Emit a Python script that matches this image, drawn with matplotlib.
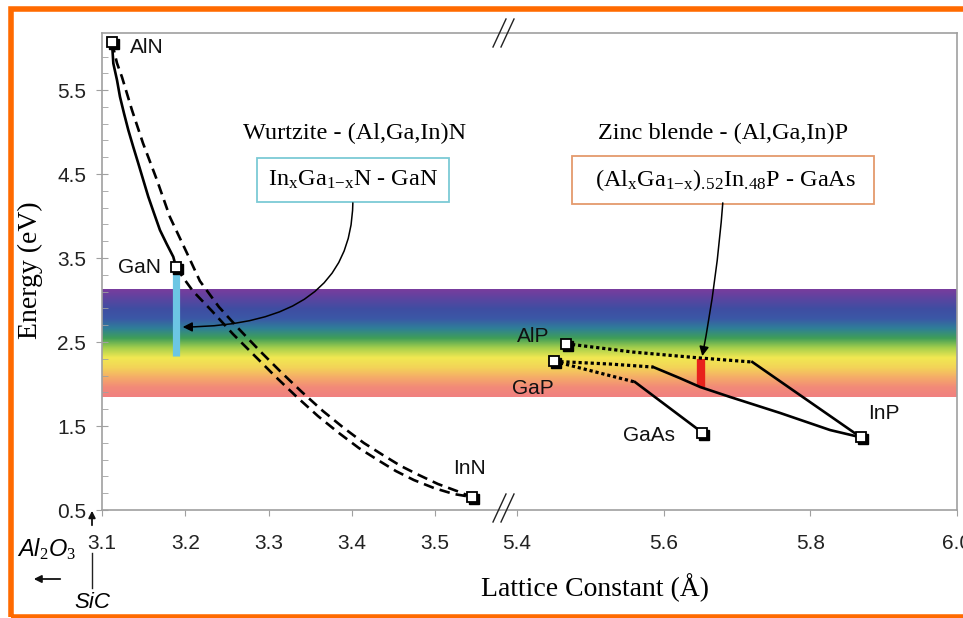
import matplotlib
matplotlib.use("Agg")
import matplotlib.pyplot as plt
import numpy as np
from matplotlib.colors import LinearSegmentedColormap
from matplotlib.lines import Line2D
from matplotlib.patches import Rectangle, FancyArrowPatch
from matplotlib.transforms import offset_copy

plt.rcParams["font.family"] = ["Liberation Sans", "DejaVu Sans"]
plt.rcParams["mathtext.fontset"] = "custom"
plt.rcParams["mathtext.rm"] = "Liberation Serif"
plt.rcParams["mathtext.it"] = "Liberation Sans:italic"

# ---- binaries: lattice constant (A) and band gap (eV) ----
nitride_names = ["AlN", "GaN", "InN"]
nitride_a = [3.112, 3.189, 3.544]
nitride_eg = [6.07, 3.39, 0.655]

phosphide_names = ["AlP", "GaP", "GaAs", "InP"]
phosphide_a = [5.467, 5.451, 5.653, 5.869]
phosphide_eg = [2.48, 2.27, 1.42, 1.365]

# ---- ternary curves ----
aln_gan_a = [3.112, 3.1136, 3.1180, 3.1216, 3.1265, 3.1316, 3.1375, 3.1436, 3.1496,
             3.1556, 3.1626, 3.1696, 3.1776, 3.1856, 3.189]
aln_gan_eg = [6.07, 5.818, 5.62, 5.420, 5.22, 5.024, 4.825, 4.627, 4.428,
              4.230, 4.03, 3.833, 3.67, 3.515, 3.39]

aln_inn_a = [3.112, 3.118, 3.124, 3.136, 3.1492, 3.166, 3.1816, 3.202, 3.2176, 3.2405,
             3.2645, 3.2897, 3.3149, 3.3401, 3.3653, 3.3905, 3.4145, 3.4373, 3.4589,
             3.4805, 3.5034, 3.5262, 3.544]
aln_inn_eg = [6.07, 5.821, 5.655, 5.262, 4.869, 4.429, 3.988, 3.560, 3.226, 2.917,
              2.655, 2.393, 2.143, 1.905, 1.679, 1.476, 1.298, 1.155, 1.024,
              0.917, 0.810, 0.726, 0.655]

gan_inn_a = [3.189, 3.1996, 3.2092, 3.2321, 3.2573, 3.2837, 3.3089, 3.3341, 3.3593,
             3.3845, 3.4085, 3.4313, 3.4529, 3.4745, 3.4986, 3.5226, 3.544]
gan_inn_eg = [3.39, 3.238, 3.107, 2.869, 2.595, 2.333, 2.083, 1.845, 1.619,
              1.417, 1.238, 1.095, 0.964, 0.857, 0.762, 0.690, 0.655]

# zinc blende: dotted = direct gap branch, solid = indirect branch
alp_inp_dot_a = [5.467, 5.558, 5.650, 5.721]
alp_inp_dot_eg = [2.48, 2.381, 2.310, 2.262]
alp_inp_sol_a = [5.721, 5.869]
alp_inp_sol_eg = [2.262, 1.365]

gap_gaas_dot_a = [5.451, 5.513, 5.561]
gap_gaas_dot_eg = [2.27, 2.131, 2.024]
gap_gaas_sol_a = [5.561, 5.653]
gap_gaas_sol_eg = [2.024, 1.42]

gap_inp_dot_a = [5.451, 5.527, 5.586]
gap_inp_dot_eg = [2.27, 2.238, 2.202]
gap_inp_sol_a = [5.586, 5.622, 5.650, 5.691, 5.759, 5.827, 5.869]
gap_inp_sol_eg = [2.202, 2.071, 1.964, 1.845, 1.655, 1.452, 1.365]

# visible band and the two alloy ranges
visible_eg = [1.84, 3.12]
ingan_a, ingan_eg = 3.189, [2.33, 3.39]
algainp_a, algainp_eg = 5.651, [1.97, 2.30]

rainbow = ["#793c9d", "#5a45a0", "#3f4ea2", "#3b58a6", "#2f7f98", "#3f9e58",
           "#a6cf4c", "#f1e852", "#f3d458", "#f5ac68", "#f28a78", "#f08080"]

W, H = 963, 618
fig = plt.figure(figsize=(W / 100, H / 100), dpi=100)
x_break = 500
axL = fig.add_axes([102 / W, 1 - 510 / H, (x_break - 102) / W, 477 / H])
axR = fig.add_axes([x_break / W, 1 - 510 / H, (957 - x_break) / W, 477 / H])

xlimL = (3.1, 3.578)
xlimR = (5.377, 6.0)
ylim = (0.5, 6.18)
grey = "#a0a0a0"
cmap = LinearSegmentedColormap.from_list("vis", rainbow)
grad = np.linspace(0, 1, 256).reshape(-1, 1)

for ax, xl in ((axL, xlimL), (axR, xlimR)):
    ax.set_xlim(xl)
    ax.set_ylim(ylim)
    ax.imshow(grad, cmap=cmap, aspect="auto", origin="upper",
              extent=[xl[0], xl[1], visible_eg[0], visible_eg[1]], zorder=0)
    for s in ax.spines.values():
        s.set_color(grey)
        s.set_linewidth(1.2)
    ax.tick_params(axis="x", direction="out", length=4, color=grey,
                   labelsize=15, pad=13, labelcolor="#222222")

axL.spines["right"].set_visible(False)
axR.spines["left"].set_visible(False)
axL.set_xticks([3.1, 3.2, 3.3, 3.4, 3.5])
axR.set_xticks([5.4, 5.6, 5.8, 6.0])
axR.set_yticks([])
axL.set_yticks([0.5, 1.5, 2.5, 3.5, 4.5, 5.5])
axL.set_yticks(np.arange(0.7, 6.1, 0.2), minor=True)
axL.tick_params(axis="y", which="major", direction="inout", length=9, color=grey,
                labelsize=15, pad=7, labelcolor="#222222")
axL.tick_params(axis="y", which="minor", direction="in", length=4, color=grey)

# ---- nitrides ----
lw = 1.9
axL.plot(aln_gan_a, aln_gan_eg, color="black", lw=lw, zorder=3)
axL.plot(aln_inn_a, aln_inn_eg, color="black", lw=lw, dashes=(4, 2.3), zorder=3)
axL.plot(gan_inn_a, gan_inn_eg, color="black", lw=lw, dashes=(4, 2.3), zorder=3)
axL.plot([ingan_a, ingan_a], ingan_eg, color="#6cc6e4", lw=5.2,
         solid_capstyle="butt", zorder=2)

# ---- phosphides ----
dot = dict(color="black", lw=2.3, dashes=(1.0, 0.9), zorder=3)
sol = dict(color="black", lw=lw, zorder=3)
axR.plot(alp_inp_dot_a, alp_inp_dot_eg, **dot)
axR.plot(alp_inp_sol_a, alp_inp_sol_eg, **sol)
axR.plot(gap_gaas_dot_a, gap_gaas_dot_eg, **dot)
axR.plot(gap_gaas_sol_a, gap_gaas_sol_eg, **sol)
axR.plot(gap_inp_dot_a, gap_inp_dot_eg, **dot)
axR.plot(gap_inp_sol_a, gap_inp_sol_eg, **sol)
axR.plot([algainp_a, algainp_a], algainp_eg, color="#e8221c", lw=6,
         solid_capstyle="butt", zorder=2)

# square markers with a drop shadow
for ax, xs, ys in ((axL, nitride_a, nitride_eg), (axR, phosphide_a, phosphide_eg)):
    shadow = offset_copy(ax.transData, fig=fig, x=2, y=-2, units="dots")
    ax.plot(xs, ys, "s", ms=7, color="black", transform=shadow, zorder=4, clip_on=False)
    ax.plot(xs, ys, "s", ms=7, mfc="white", mec="black", mew=1.3, ls="none",
            zorder=5, clip_on=False)

lab = dict(fontsize=15, color="#111111", va="center")
axL.text(3.1336, 6.012, "AlN", ha="left", **lab)
axL.text(3.1708, 3.393, "GaN", ha="right", **lab)
axL.text(3.5418, 1.0, "InN", ha="center", **lab)
axR.text(5.444, 2.571, "AlP", ha="right", **lab)
axR.text(5.4218, 1.952, "GaP", ha="center", **lab)
axR.text(5.580, 1.393, "GaAs", ha="center", **lab)
axR.text(5.9007, 1.655, "InP", ha="center", **lab)

serif = ["Liberation Serif", "DejaVu Serif"]
axL.text(3.4037, 4.988, "Wurtzite - (Al,Ga,In)N", family=serif, fontsize=17.5,
         ha="center", va="center")
axL.text(3.4013, 4.429, r"In$_{\mathrm{x}}$Ga$_{\mathrm{1{-}x}}$N - GaN", family=serif,
         fontsize=17.5, ha="center", va="center",
         bbox=dict(boxstyle="square,pad=0.45", fc="white", ec="#7ccad6", lw=1.3))
axL.annotate("", xy=(3.1936, 2.679), xytext=(3.4013, 4.19),
             arrowprops=dict(arrowstyle="-|>", color="black", lw=1.1,
                             mutation_scale=14,
                             connectionstyle="angle3,angleA=-90,angleB=0"),
             zorder=6)

axR.text(5.681, 4.988, "Zinc blende - (Al,Ga,In)P", family=serif, fontsize=17.5,
         ha="center", va="center")
axR.text(5.681, 4.429,
         r"  (Al$_{\mathrm{x}}$Ga$_{\mathrm{1{-}x}}$)$_{\mathrm{.\!52}}$In$_{\mathrm{.\!48}}$P - GaAs  ",
         family=serif, fontsize=17.5, ha="center", va="center",
         bbox=dict(boxstyle="square,pad=0.45", fc="white", ec="#e49a6c", lw=1.3))
axR.annotate("", xy=(5.652, 2.30), xytext=(5.681, 4.19),
             arrowprops=dict(arrowstyle="-|>", color="black", lw=1.1,
                             mutation_scale=14,
                             connectionstyle="arc3,rad=-0.03"),
             zorder=6)

# axis labels
fig.text(30 / W, 1 - 270 / H, "Energy (eV)", family=serif, fontsize=20,
         rotation=90, ha="center", va="center")
fig.text(595 / W, 1 - 588 / H, "Lattice Constant (Å)", family=serif, fontsize=20,
         ha="center", va="center")

# axis break marks
for y0 in (33, 508):
    for dx in (0, 8):
        fig.add_artist(Line2D([(493 + dx) / W, (506 + dx) / W],
                              [1 - (y0 + 14) / H, 1 - (y0 - 14) / H],
                              color="#222222", lw=1.0))

# substrate hints bottom-left
fig.text(47 / W, 1 - 549 / H, r"$\mathit{Al_2O_3}$", fontsize=17, ha="center", va="center")
fig.text(92 / W, 1 - 603 / H, "SiC", style="italic", fontsize=16, ha="center", va="center")
fig.add_artist(Line2D([92 / W, 92 / W], [1 - 553 / H, 1 - 588 / H], color="#222222", lw=1.0))
fig.patches.append(FancyArrowPatch(
    (63 / W, 1 - 579 / H), (31 / W, 1 - 579 / H), transform=fig.transFigure,
    arrowstyle="-|>", mutation_scale=11, color="#111111", lw=1.3))
fig.patches.append(FancyArrowPatch(
    (92 / W, 1 - 528 / H), (92 / W, 1 - 508 / H), transform=fig.transFigure,
    arrowstyle="-|>", mutation_scale=10, color="#111111", lw=1.3))

# orange frame
fig.patches.append(Rectangle((10.5 / W, 1 - 617 / H), 1.2, (617 - 9) / H,
                             transform=fig.transFigure, fill=False,
                             ec="#ff6a00", lw=4.0))

fig.savefig("out.png", dpi=100)
